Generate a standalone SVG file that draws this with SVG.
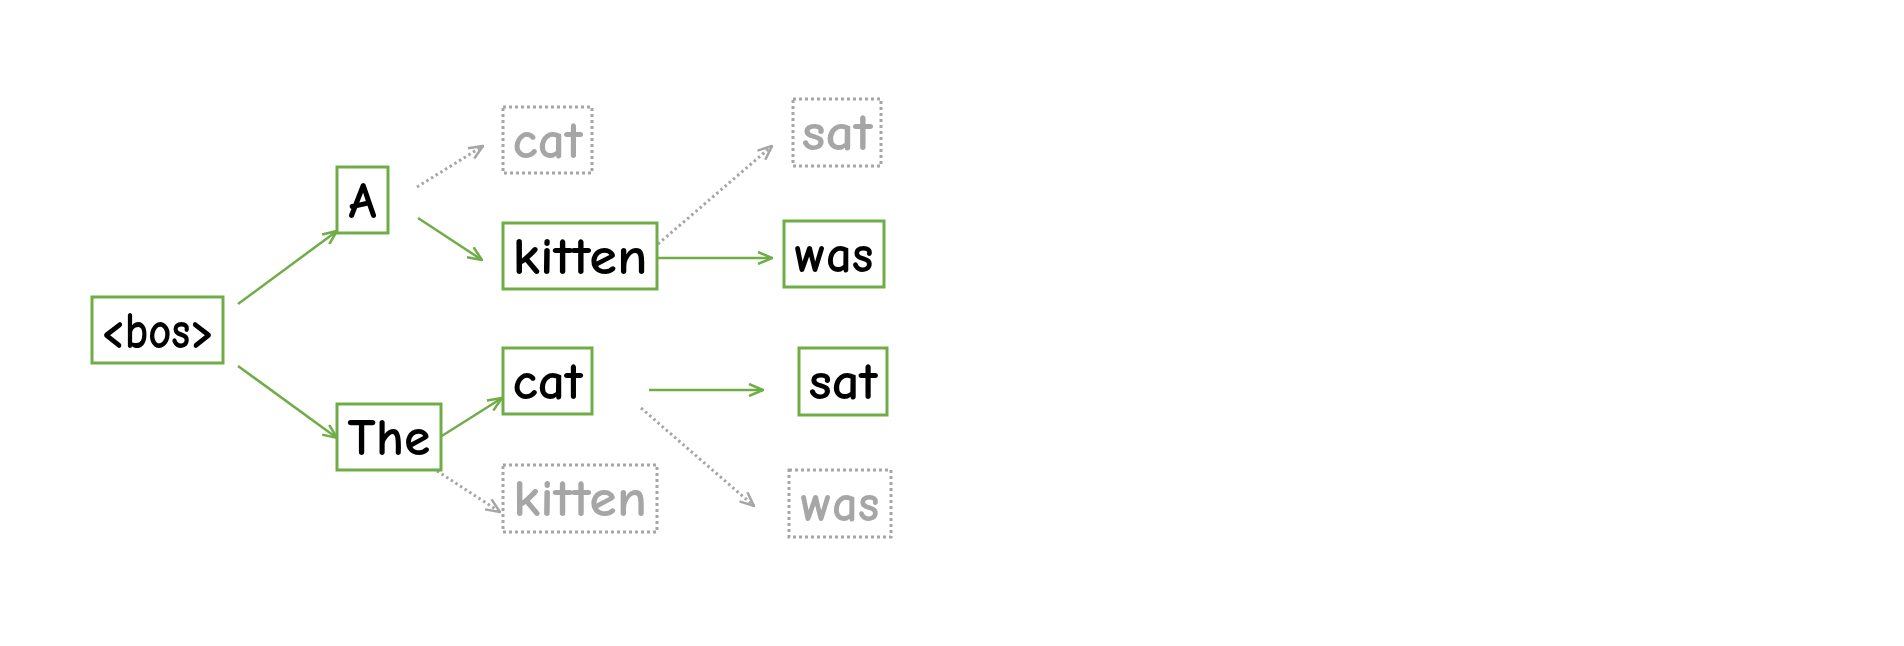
<svg xmlns="http://www.w3.org/2000/svg" width="1904" height="646" viewBox="0 0 1904 646">
<style>
.g{fill:#ffffff;stroke:#70AD47;stroke-width:3}
.d{fill:#ffffff;stroke:#A6A6A6;stroke-width:3;stroke-dasharray:3 3}
.t{font-family:"Comic Sans MS","Comic Neue","Noto Sans",sans-serif;font-size:52px;font-weight:700;text-anchor:middle}
.tb{fill:#000000}
.tg{fill:#A6A6A6}
.cg{fill:none;stroke:#70AD47;stroke-width:2.5}
.cd{fill:none;stroke:#A6A6A6;stroke-width:3;stroke-dasharray:2.5 3}
</style>
<defs>
<marker id="ag" viewBox="0 0 16 14" refX="15" refY="7" markerWidth="16" markerHeight="14" markerUnits="userSpaceOnUse" orient="auto">
<path d="M1,1 L15,7 L1,13" fill="none" stroke="#70AD47" stroke-width="2.5"/>
</marker>
<marker id="ad" viewBox="0 0 16 14" refX="15" refY="7" markerWidth="16" markerHeight="14" markerUnits="userSpaceOnUse" orient="auto">
<path d="M1,1 L15,7 L1,13" fill="none" stroke="#A6A6A6" stroke-width="2.5"/>
</marker>
</defs>
<rect width="1904" height="646" fill="#ffffff"/>
<g id="connectors">
<line class="cg" x1="238" y1="304" x2="337" y2="231" marker-end="url(#ag)"/>
<line class="cg" x1="238" y1="366" x2="337" y2="438" marker-end="url(#ag)"/>
<line class="cd" x1="417" y1="187" x2="483" y2="146" marker-end="url(#ad)"/>
<line class="cg" x1="418" y1="218" x2="482" y2="260" marker-end="url(#ag)"/>
<line class="cg" x1="437" y1="439" x2="502" y2="398" marker-end="url(#ag)"/>
<line class="cd" x1="437" y1="471" x2="500" y2="512" marker-end="url(#ad)"/>
<line class="cd" x1="658" y1="244" x2="772" y2="146" marker-end="url(#ad)"/>
<line class="cg" x1="657" y1="258" x2="772" y2="258" marker-end="url(#ag)"/>
<line class="cg" x1="649" y1="390" x2="763" y2="390" marker-end="url(#ag)"/>
<line class="cd" x1="641" y1="408" x2="754" y2="506" marker-end="url(#ad)"/>
</g>
<g id="node-bos">
<rect class="g" x="92" y="297" width="131" height="66"/>
<text class="t tb" x="157.5" y="348" textLength="114" lengthAdjust="spacingAndGlyphs">&lt;bos&gt;</text>
</g>
<g id="node-A">
<rect class="g" x="337" y="167" width="51" height="66"/>
<text class="t tb" x="362.5" y="218" textLength="28" lengthAdjust="spacingAndGlyphs">A</text>
</g>
<g id="node-The">
<rect class="g" x="337" y="404" width="104" height="66"/>
<text class="t tb" x="389" y="455" textLength="83" lengthAdjust="spacingAndGlyphs">The</text>
</g>
<g id="node-cat-gray">
<rect class="d" x="503" y="107" width="89" height="66"/>
<text class="t tg" x="547.5" y="158" textLength="70" lengthAdjust="spacingAndGlyphs">cat</text>
</g>
<g id="node-kitten">
<rect class="g" x="503" y="223" width="154" height="66"/>
<text class="t tb" x="580" y="274" textLength="135" lengthAdjust="spacingAndGlyphs">kitten</text>
</g>
<g id="node-cat">
<rect class="g" x="503" y="348" width="89" height="66"/>
<text class="t tb" x="547.5" y="399" textLength="70" lengthAdjust="spacingAndGlyphs">cat</text>
</g>
<g id="node-kitten-gray">
<rect class="d" x="503" y="465" width="154" height="67"/>
<text class="t tg" x="580" y="516" textLength="134" lengthAdjust="spacingAndGlyphs">kitten</text>
</g>
<g id="node-sat-gray">
<rect class="d" x="793" y="99" width="88" height="67"/>
<text class="t tg" x="837" y="150" textLength="71" lengthAdjust="spacingAndGlyphs">sat</text>
</g>
<g id="node-was">
<rect class="g" x="784" y="221" width="100" height="66"/>
<text class="t tb" x="834" y="272" textLength="79" lengthAdjust="spacingAndGlyphs">was</text>
</g>
<g id="node-sat">
<rect class="g" x="799" y="348" width="88" height="67"/>
<text class="t tb" x="843" y="399" textLength="69" lengthAdjust="spacingAndGlyphs">sat</text>
</g>
<g id="node-was-gray">
<rect class="d" x="789" y="470" width="102" height="67"/>
<text class="t tg" x="840" y="521" textLength="79" lengthAdjust="spacingAndGlyphs">was</text>
</g>
</svg>
